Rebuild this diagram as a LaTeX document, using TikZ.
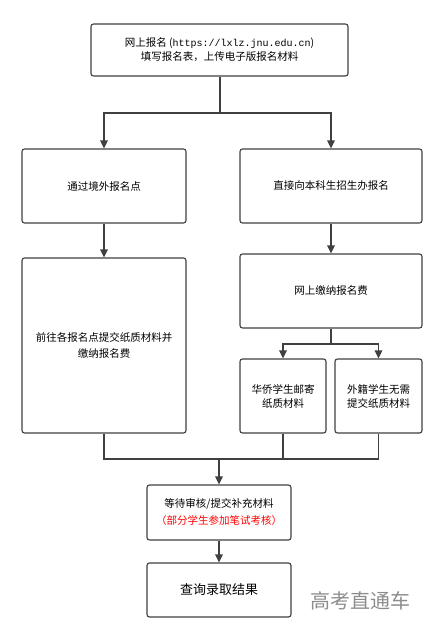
\documentclass[tikz,border=0pt]{standalone}
\usepackage{fontspec}
\setmainfont{Noto Sans CJK SC}
\newfontfamily\urlfont{Liberation Mono}
\usetikzlibrary{arrows.meta, positioning}

\begin{document}
\begin{tikzpicture}[x=1pt, y=-1pt]
    % Node styles
    \tikzstyle{stepbox} = [rectangle, draw=black!75, line width=1.1pt, rounded corners=2.5pt, fill=white, align=center, font=\fontsize{10.5}{14}\selectfont, inner sep=2pt]
    \tikzstyle{flowline} = [draw=black!75, line width=1.1pt]
    \tikzstyle{flowarrow} = [flowline, -{Triangle[length=8pt, width=7.5pt]}]

    \useasboundingbox (0,0) rectangle (443,642);

    % Nodes
    \node (online) [stepbox, minimum width=257pt, minimum height=52pt] at (219.5,50) {网上报名 ({\urlfont\fontsize{10}{14}\selectfont https://lxlz.jnu.edu.cn})\\填写报名表，上传电子版报名材料};
    \node (overseas) [stepbox, minimum width=164pt, minimum height=74pt] at (104,186) {通过境外报名点};
    \node (direct) [stepbox, minimum width=182pt, minimum height=74pt] at (331,186) {直接向本科生招生办报名};
    \node (submit) [stepbox, minimum width=164pt, minimum height=175pt, font=\fontsize{10.5}{16}\selectfont] at (104,345.5) {前往各报名点提交纸质材料并\\缴纳报名费};
    \node (payfee) [stepbox, minimum width=182pt, minimum height=74pt] at (331,291) {网上缴纳报名费};
    \node (mail) [stepbox, minimum width=86pt, minimum height=74pt] at (283,396) {华侨学生邮寄\\纸质材料};
    \node (foreign) [stepbox, minimum width=87pt, minimum height=74pt] at (378.5,396) {外籍学生无需\\提交纸质材料};
    \node (review) [stepbox, minimum width=144pt, minimum height=55pt, font=\fontsize{10.5}{17}\selectfont] at (219,512.5) {等待审核/提交补充材料\\\textcolor{red}{（部分学生参加笔试考核）}};
    \node (result) [stepbox, minimum width=144pt, minimum height=54pt, font=\fontsize{13}{16}\selectfont] at (219,590) {查询录取结果};
    \node (brand) [text=black!45, font=\fontsize{20}{22}\selectfont] at (360,601) {高考直通车};

    % Branch points
    \coordinate (split1) at (220,113);
    \coordinate (split2) at (331,344);
    \coordinate (merge) at (219,459);

    % Arrows
    \draw[flowline] (online.south -| split1) -- (split1);
    \draw[flowarrow] (split1) -| (overseas.north);
    \draw[flowarrow] (split1) -| (direct.north);
    \draw[flowarrow] (overseas.south) -- (submit.north);
    \draw[flowarrow] (direct.south) -- (payfee.north);
    \draw[flowline] (payfee.south) -- (split2);
    \draw[flowarrow] (split2) -| (mail.north);
    \draw[flowarrow] (split2) -| (foreign.north);
    \draw[flowline] (submit.south) |- (merge);
    \draw[flowline] (foreign.south) |- (merge);
    \draw[flowline] (mail.south) -- (mail.south |- merge);
    \draw[flowarrow] (merge) -- (review.north);
    \draw[flowarrow] (review.south) -- (result.north);
\end{tikzpicture}
\end{document}
